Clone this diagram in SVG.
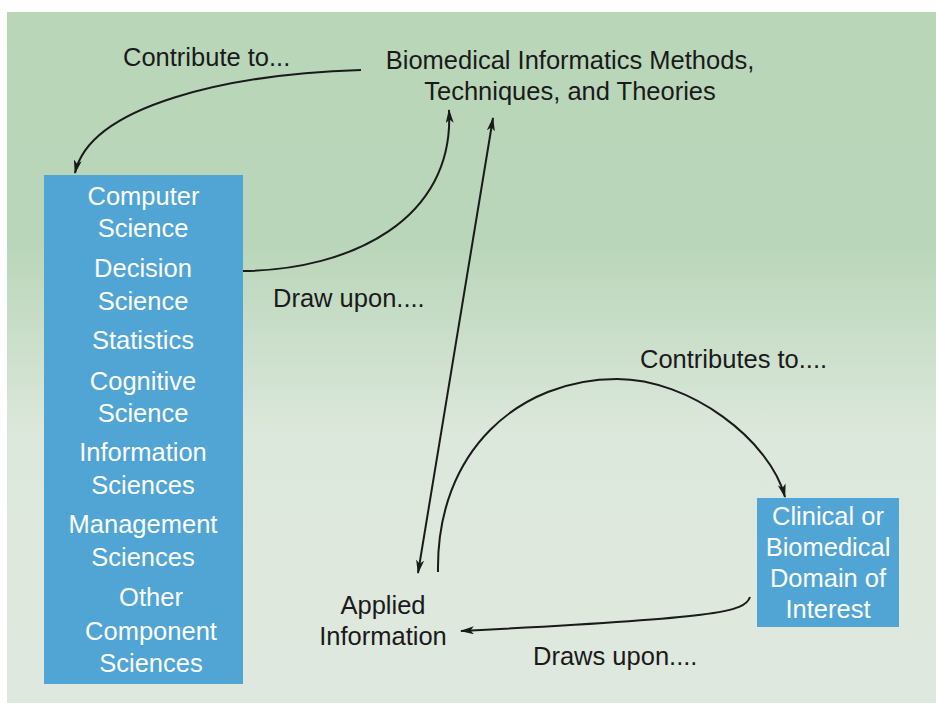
<svg xmlns="http://www.w3.org/2000/svg" width="936" height="703" viewBox="0 0 936 703">
<defs>
<linearGradient id="bg" x1="0" y1="0" x2="0" y2="1">
<stop offset="0" stop-color="#b9d6b9"/>
<stop offset="0.34" stop-color="#bad6ba"/>
<stop offset="0.62" stop-color="#dde8dc"/>
<stop offset="1" stop-color="#dfe8de"/>
</linearGradient>
<marker id="ah" viewBox="0 0 14 8" refX="13" refY="4" markerWidth="14" markerHeight="8" markerUnits="userSpaceOnUse" orient="auto-start-reverse">
<path d="M0,0 L14,4 L0,8 L3.5,4 z" fill="#1a1a1a"/>
</marker>
<style>
.lbl{font-family:"Liberation Sans",Arial,sans-serif;font-size:25.5px;fill:#1a1a1a}
.wt{font-family:"Liberation Sans",Arial,sans-serif;font-size:25.5px;fill:#ffffff;text-anchor:middle}
.box{fill:#50a5d5}
.con{fill:none;stroke:#1a1a1a;stroke-width:2}
</style>
</defs>
<rect x="7" y="12" width="929" height="691" fill="url(#bg)"/>
<g id="connectors">
<path class="con" d="M361,70 C230,74 90,105 75,173" marker-end="url(#ah)"/>
<path class="con" d="M243,271 C350,270 455,220 449,110" marker-end="url(#ah)"/>
<path class="con" d="M493,118 L418,573" marker-start="url(#ah)" marker-end="url(#ah)"/>
<path class="con" d="M438,572 C436,450 520,379 617,379 C690,379 770,440 785,497" marker-end="url(#ah)"/>
<path class="con" d="M750,597 C745,612 720,618 461,631" marker-end="url(#ah)"/>
</g>
<g id="label-contribute">
<text class="lbl" x="123" y="66">Contribute to...</text>
</g>
<g id="node-methods">
<text class="lbl" x="570" y="69" text-anchor="middle">Biomedical Informatics Methods,</text>
<text class="lbl" x="570" y="100" text-anchor="middle">Techniques, and Theories</text>
</g>
<g id="node-disciplines">
<rect class="box" x="44" y="175" width="199" height="509"/>
<text class="wt" x="143.5" y="205">Computer</text>
<text class="wt" x="143" y="237">Science</text>
<text class="wt" x="143" y="277">Decision</text>
<text class="wt" x="143" y="310">Science</text>
<text class="wt" x="143" y="349">Statistics</text>
<text class="wt" x="143" y="390">Cognitive</text>
<text class="wt" x="143" y="422">Science</text>
<text class="wt" x="143" y="461">Information</text>
<text class="wt" x="143" y="494">Sciences</text>
<text class="wt" x="143" y="533">Management</text>
<text class="wt" x="143" y="566">Sciences</text>
<text class="wt" x="151" y="606">Other</text>
<text class="wt" x="151" y="640">Component</text>
<text class="wt" x="151" y="672">Sciences</text>
</g>
<g id="label-draw">
<text class="lbl" x="273" y="307">Draw upon....</text>
</g>
<g id="label-contributes">
<text class="lbl" x="640" y="368">Contributes to....</text>
</g>
<g id="node-domain">
<rect class="box" x="757" y="498" width="142" height="129"/>
<text class="wt" x="828" y="525">Clinical or</text>
<text class="wt" x="828" y="556">Biomedical</text>
<text class="wt" x="828" y="587">Domain of</text>
<text class="wt" x="828" y="618">Interest</text>
</g>
<g id="node-applied">
<text class="lbl" x="383" y="614" text-anchor="middle">Applied</text>
<text class="lbl" x="383" y="645" text-anchor="middle">Information</text>
</g>
<g id="label-draws">
<text class="lbl" x="533" y="665">Draws upon....</text>
</g>
</svg>
